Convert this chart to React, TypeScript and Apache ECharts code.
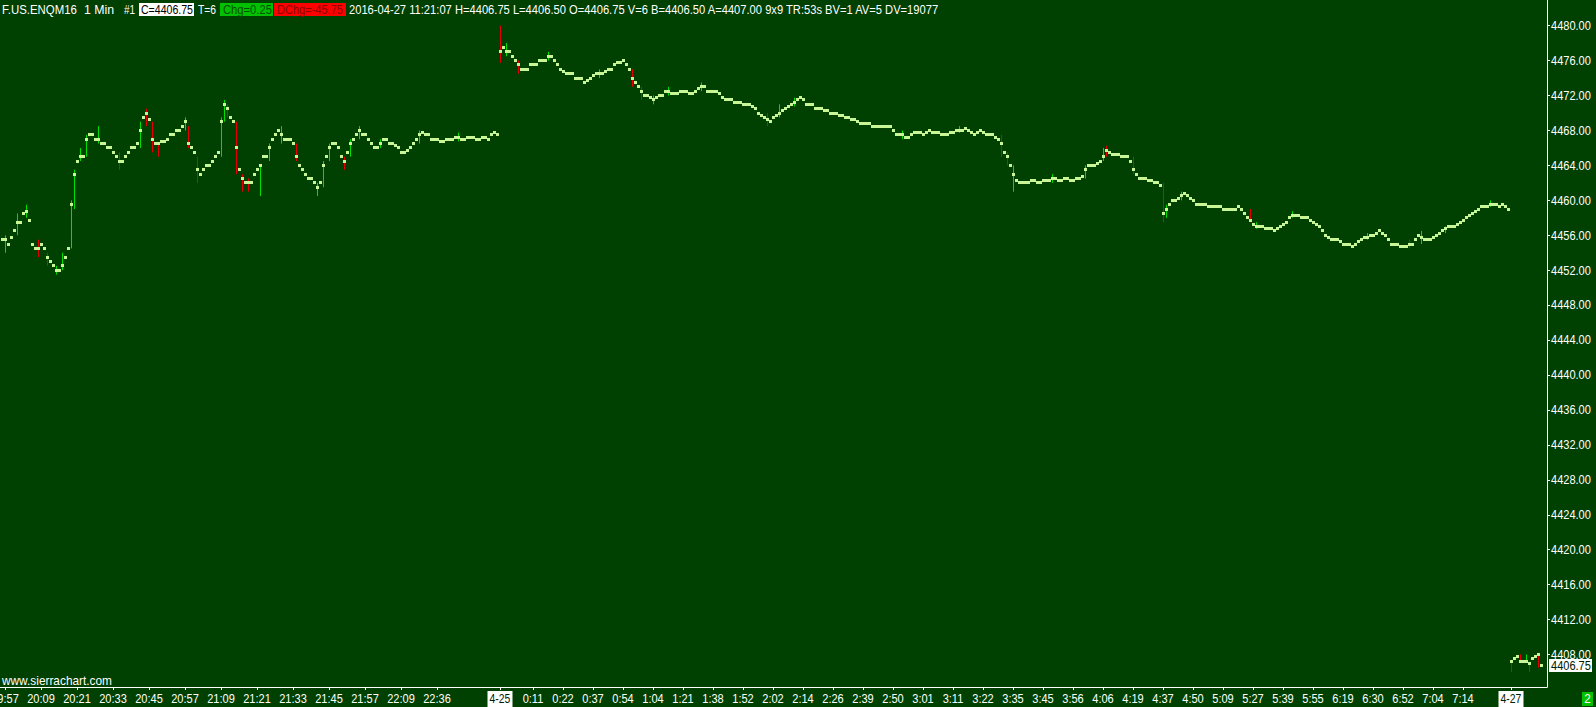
import React, { useEffect, useRef } from "react";
import * as echarts from "echarts";

// ---- data ----
// 1-minute closes, session of 4-24 evening
const session1Close = [
  4455.5, 4455.5, 4455, 4455.75,
  4456.5, 4457.5, 4457.5, 4458.5, 4458.75, 4457.75,
  4455, 4454.5, 4454.5, 4455, 4454.5,
  4453.5, 4453, 4452.5, 4452, 4452, 4452.5,
  4453.5, 4454.5,
  4459.5, 4463,
  4464.5, 4465, 4465,
  4467, 4467.5, 4467.5, 4467, 4467, 4466.5,
  4466.5, 4466, 4466, 4465.5, 4465,
  4464.5, 4464.5,
  4465, 4465.5, 4466, 4466, 4466.5, 4468,
  4469.5, 4470, 4469.25,
  4467, 4466.5, 4466.5, 4466.75, 4466.75, 4467,
  4467.5, 4467.5, 4468, 4468, 4468.5, 4469,
  4466.5, 4466, 4465.5, 4463.5,
  4463, 4463.5, 4464, 4464, 4464.5, 4465, 4465.5,
  4469, 4471, 4470.5, 4469.5, 4469,
  4466, 4463.5, 4462.5, 4462, 4462, 4462,
  4463, 4463.5, 4464, 4465, 4465,
  4466, 4467, 4467.5, 4468,
  4467.5, 4467, 4467, 4467, 4466.5,
  4465, 4464, 4463.5, 4463,
  4462.5, 4462.5, 4462, 4461.5, 4462,
  4464, 4465, 4466, 4466.5, 4466.5,
  4466, 4465, 4464.5, 4465.5, 4466.5,
  4467, 4467.5, 4468, 4467.5, 4467.5,
  4467, 4466.5, 4466, 4466, 4466.5, 4467, 4467,
  4466.5, 4466.5, 4466.25, 4466, 4465.5, 4465.5, 4465.75,
  4466, 4466.5, 4467, 4467.5, 4467.75, 4467.5, 4467.5,
  4467, 4467, 4467, 4466.75, 4466.75, 4467, 4467, 4467, 4467.25, 4467.25, 4467, 4467,
  4467.25, 4467.25, 4467.25, 4467, 4467, 4467.25, 4467.25, 4467, 4467.5, 4467.75, 4467.5,
];

// 4-25 00:00 .. 07:29
const session2Close = [
  4477, 4477.5, 4477, 4477, 4476.5, 4476, 4475.5, 4475, 4475, 4475, 4475.5,
  4475.5, 4475.5, 4476, 4476, 4476, 4476.5, 4476.5, 4476, 4475.5, 4475,
  4474.75, 4474.5, 4474.5, 4474.5, 4474, 4474, 4474, 4473.5, 4473.75, 4474,
  4474.25, 4474.5, 4474.5, 4474.5, 4474.75, 4475, 4475, 4475.5, 4475.75, 4475.75,
  4476, 4475.5, 4475, 4474, 4473.5, 4473, 4472.5, 4472, 4472, 4471.75,
  4471.5, 4471.75, 4472, 4472, 4472.5, 4472.5, 4472.25, 4472.25, 4472.25, 4472.5,
  4472.5, 4472.5, 4472.25, 4472.25, 4472.5, 4472.75, 4473, 4473, 4472.5, 4472.5,
  4472.5, 4472.5, 4472.25, 4471.75, 4471.5, 4471.5, 4471.5, 4471.25, 4471.25, 4471.25,
  4471, 4471, 4471, 4470.75, 4470.5, 4470, 4469.75, 4469.5, 4469.25, 4469,
  4469.5, 4469.75, 4470, 4470.25, 4470.5, 4470.75, 4471, 4471.25, 4471.5, 4471.75,
  4471.5, 4471, 4471, 4471, 4470.5, 4470.5, 4470.5, 4470.25, 4470.25, 4470,
  4470, 4470, 4469.75, 4469.75, 4469.5, 4469.5, 4469.25, 4469.25, 4469, 4468.75,
  4468.75, 4468.75, 4468.75, 4468.5, 4468.5, 4468.5, 4468.5, 4468.5, 4468.5, 4468.5,
  4468, 4467.5, 4467.5, 4467.5, 4467.25, 4467.25, 4467.5, 4467.75, 4467.75, 4467.75,
  4467.5, 4467.75, 4468, 4467.75, 4467.75, 4467.75, 4467.5, 4467.5, 4467.5, 4467.75,
  4467.75, 4468, 4468, 4468, 4468.25, 4468, 4467.75, 4467.5, 4467.75, 4468,
  4467.75, 4467.5, 4467.5, 4467.5, 4467.25, 4467, 4466.5, 4465.5, 4465, 4464,
  4463, 4462.25, 4462, 4462, 4462, 4462, 4462.25, 4462.25, 4462, 4462,
  4462.25, 4462.25, 4462.25, 4462.5, 4462.5, 4462.25, 4462.25, 4462.5, 4462.5, 4462.25,
  4462.25, 4462.5, 4462.5, 4462.75, 4463.5, 4464, 4464, 4464, 4464.25, 4464.5,
  4465, 4465.75, 4465.5, 4465.25, 4465.25, 4465.25, 4465, 4465, 4465, 4464.5,
  4463.5, 4463, 4462.5, 4462.5, 4462.5, 4462.25, 4462.25, 4462, 4462, 4461.75,
  4458.5, 4459, 4459.5, 4460, 4460, 4460.25, 4460.5, 4460.75, 4460.5, 4460.25,
  4460, 4459.5, 4459.5, 4459.5, 4459.5, 4459.25, 4459.25, 4459.25, 4459.25, 4459.25,
  4459, 4459, 4459, 4459, 4459, 4459.25, 4459, 4458.5, 4458, 4457.75,
  4457.25, 4457, 4457, 4457, 4456.75, 4456.75, 4456.75, 4456.5, 4456.75, 4457,
  4457.25, 4457.5, 4458, 4458.25, 4458.25, 4458.25, 4458, 4458, 4458, 4457.75,
  4457.5, 4457.25, 4457, 4456.5, 4456, 4455.75, 4455.5, 4455.5, 4455.5, 4455.25,
  4455, 4455, 4455, 4454.75, 4455, 4455.25, 4455.5, 4455.75, 4455.75, 4456,
  4456, 4456.25, 4456.5, 4456.25, 4456, 4455.5, 4455, 4455, 4455, 4454.75,
  4454.75, 4454.75, 4455, 4455, 4455.5, 4456, 4455.75, 4455.5, 4455.5, 4455.5,
  4455.75, 4456, 4456.25, 4456.5, 4456.75, 4457, 4457, 4457, 4457.25, 4457.5,
  4457.75, 4458, 4458.25, 4458.5, 4458.75, 4459, 4459.25, 4459.25, 4459.25, 4459.5,
  4459.5, 4459.5, 4459.25, 4459.5, 4459.25, 4459,
];

// 4-27
const session3Close = [
  4407.25, 4407.5, 4407.75, 4407.25, 4407.25, 4407.25, 4407, 4407.5, 4407.75, 4408, 4406.75,
];

// wicks that reach beyond the close box: [bar index, low, high, up(1)/down(0)]
const wicks: [number, number, number, number][] = [
  [1, 4454, 4456, 1], [5, 4456, 4458.5, 1], [8, 4458, 4459.5, 1], [12, 4453.5, 4455.5, 0],
  [15, 4452.5, 4454, 0], [18, 4451.5, 4452.5, 1], [20, 4452, 4454, 1], [23, 4454.5, 4460, 1],
  [24, 4459, 4463.5, 1], [26, 4464.5, 4466, 1], [28, 4465, 4467.5, 1], [32, 4466.5, 4468.5, 1],
  [39, 4463.5, 4465.5, 0], [46, 4466, 4469, 1], [48, 4468.5, 4470.5, 0], [50, 4465.5, 4469, 0],
  [52, 4465, 4466.5, 0], [61, 4468, 4469.5, 1], [62, 4466, 4468.5, 0], [65, 4462, 4465, 0],
  [73, 4465, 4469.5, 1], [74, 4469, 4471.5, 1], [75, 4469.5, 4471, 0], [78, 4463, 4469, 0],
  [80, 4461, 4463, 0], [82, 4461, 4462.5, 0], [86, 4460.5, 4464, 1], [89, 4464.5, 4466.5, 1],
  [93, 4466.5, 4468.5, 1], [98, 4464.5, 4466.5, 0], [105, 4460.5, 4462, 1], [107, 4461.5, 4464.5, 1],
  [109, 4464.5, 4466.5, 1], [114, 4463.5, 4465, 0], [116, 4465, 4467, 1], [119, 4467, 4468.5, 1],
  [126, 4466, 4467, 1], [139, 4466.5, 4468, 1], [152, 4466.75, 4467.75, 1],
  [166, 4475.75, 4480, 0], [168, 4476.5, 4478, 1], [172, 4474.5, 4476, 0], [182, 4476, 4477, 1],
  [199, 4474, 4475, 1], [210, 4473, 4475, 0], [213, 4471.5, 4473, 0], [217, 4471, 4472, 1],
  [222, 4472, 4473, 1], [233, 4472.5, 4473.5, 1], [255, 4468.5, 4470, 0], [259, 4469.5, 4471, 1],
  [264, 4470.75, 4471.75, 1], [300, 4467, 4468, 1], [319, 4467.75, 4468.5, 1],
  [333, 4465, 4467.5, 0], [335, 4464, 4465.5, 0], [337, 4461, 4464, 1], [350, 4462, 4463, 1],
  [361, 4462.5, 4464, 1], [367, 4464.5, 4466, 1], [368, 4465, 4466.25, 0], [377, 4463, 4465, 0],
  [387, 4457.5, 4462, 0], [388, 4458, 4459.5, 1], [393, 4460, 4461, 1], [416, 4457.5, 4459, 0],
  [418, 4456.75, 4457.5, 1], [430, 4458, 4458.75, 1], [455, 4455.5, 4456.25, 1],
  [469, 4454.5, 4455.5, 0], [473, 4455, 4456.5, 1], [481, 4456.25, 4457, 1], [496, 4459.25, 4460, 1],
  [503, 4406, 4407.25, 0], [506, 4407.25, 4408, 0], [508, 4407.25, 4408, 1], [509, 4406, 4407, 0],
  [512, 4406.5, 4408, 0],
];

const timeTickIndex = [
  1, 13, 25, 37, 49, 61, 73, 85, 97, 109, 121, 133, 145, 166, 177, 187, 197, 207, 217, 227,
  237, 247, 257, 267, 277, 287, 297, 307, 317, 327, 337, 347, 357, 367, 377, 387, 397, 407,
  417, 427, 437, 447, 457, 467, 477, 487, 503,
];
const timeTickLabel = [
  "19:57", "20:09", "20:21", "20:33", "20:45", "20:57", "21:09", "21:21", "21:33", "21:45",
  "21:57", "22:09", "22:36", "4-25", "0:11", "0:22", "0:37", "0:54", "1:04", "1:21", "1:38",
  "1:52", "2:02", "2:14", "2:26", "2:39", "2:50", "3:01", "3:11", "3:22", "3:35", "3:45",
  "3:56", "4:06", "4:19", "4:37", "4:50", "5:09", "5:27", "5:39", "5:55", "6:19", "6:30",
  "6:52", "7:04", "7:14", "4-27",
];
const priceTicks = [
  4408, 4412, 4416, 4420, 4424, 4428, 4432, 4436, 4440, 4444, 4448, 4452, 4456, 4460, 4464,
  4468, 4472, 4476, 4480,
];
const lastPrice = 4406.75;
const pageCount = "2";

const headerTexts = [
  "F.US.ENQM16", "1 Min", "#1", "C=4406.75", "T=6", "Chg=0.25", "DChg=-45.75",
  "2016-04-27 11:21:07 H=4406.75 L=4406.50 O=4406.75 V=6 B=4406.50 A=4407.00 9x9 TR:53s BV=1 AV=5 DV=19077",
];
const siteText = "www.sierrachart.com";

// ---- layout / style ----
const headerSpan: [number, number][] = [
  [2, 77], [84, 115], [124, 135], [141, 193], [198, 216], [223, 272], [277, 343], [349, 940],
];
const headerBox: Record<number, { x: number; w: number; fill: string; color: string }> = {
  3: { x: 139, w: 55, fill: "#ffffff", color: "#000000" },
  5: { x: 220, w: 53, fill: "#00c000", color: "#005000" },
  6: { x: 274, w: 72, fill: "#ff0000", color: "#900000" },
};
const FAMILY = '"Liberation Sans", Arial, sans-serif';
const FONT13 = `13px ${FAMILY}`;
const NARROW = 0.85;
const BG = "#004000";
const BODY = "#c8f596";
const UP = "#00e000";
const DOWN = "#e80000";

export default function App() {
  const ref = useRef<HTMLDivElement>(null);

  useEffect(() => {
    document.body.style.margin = "0";
    const chart = echarts.init(ref.current as HTMLDivElement, null, { renderer: "svg" });

    const closes = [...session1Close, ...session2Close, ...session3Close];
    const wickMap = new Map<number, [number, number, number]>();
    wicks.forEach(([i, l, h, d]) => wickMap.set(i, [l, h, d]));
    const bars = closes.map((c, i) => {
      const w = wickMap.get(i);
      return w ? [i, c, w[0], w[1], w[2]] : [i, c, c, c, -1];
    });

    chart.setOption({
      animation: false,
      backgroundColor: BG,
      grid: { left: 0, right: 49, top: 0, bottom: 20 },
      xAxis: {
        type: "value",
        min: -2 / 3,
        max: 515,
        splitLine: { show: false },
        axisLine: { show: true, onZero: false, lineStyle: { color: "#ffffff", width: 1 } },
        axisTick: { show: true, customValues: timeTickIndex, length: 3, lineStyle: { color: "#ffffff" } },
        axisLabel: { show: false },
      },
      yAxis: {
        type: "value",
        position: "right",
        min: 4404.28,
        max: 4482.94,
        splitLine: { show: false },
        axisLine: { show: true, onZero: false, lineStyle: { color: "#ffffff", width: 1 } },
        axisTick: { show: true, customValues: priceTicks, length: 3, lineStyle: { color: "#ffffff" } },
        axisLabel: { show: false },
      },
      series: [
        {
          type: "custom",
          clip: true,
          data: bars,
          encode: { x: 0, y: [1, 2, 3] },
          renderItem: (params: any, api: any) => {
            const i = api.value(0);
            const c = api.value(1);
            const l = api.value(2);
            const h = api.value(3);
            const d = api.value(4);
            const pc = api.coord([i, c]);
            const x = Math.round(pc[0]);
            const children: any[] = [];
            if (d >= 0) {
              const pl = api.coord([i, l]);
              const ph = api.coord([i, h]);
              children.push({
                type: "line",
                shape: { x1: x + 0.5, y1: ph[1], x2: x + 0.5, y2: pl[1] },
                style: { stroke: d === 1 ? UP : DOWN, lineWidth: 1 },
              });
            }
            children.push({
              type: "rect",
              shape: { x: x - 1, y: Math.round(pc[1] - 1.5), width: 3, height: 3 },
              style: { fill: BODY },
            });
            return { type: "group", children };
          },
        },
      ],
    });

    // texts, drawn narrow like the original's condensed UI font
    const ctx = document.createElement("canvas").getContext("2d") as CanvasRenderingContext2D;
    ctx.font = FONT13;
    const graphics: any[] = [];
    const narrowText = (text: string, x: number, y: number, fill: string, align = "left", sx = NARROW) => ({
      type: "text",
      x,
      y,
      scaleX: sx,
      style: { text, fill, font: FONT13, align, verticalAlign: "middle" },
    });
    const fit = (t: string, w: number) => Math.min(0.95, w / ctx.measureText(t).width);

    headerTexts.forEach((t, k) => {
      const b = headerBox[k];
      if (b) {
        graphics.push({ type: "rect", shape: { x: b.x, y: 3, width: b.w, height: 13 }, style: { fill: b.fill } });
      }
      const [x0, x1] = headerSpan[k];
      graphics.push(narrowText(t, x0, 9.5, b ? b.color : "#ffffff", "left", fit(t, x1 - x0)));
    });
    graphics.push(narrowText(siteText, 2, 681, "#ffffff", "left", fit(siteText, 110)));

    // time labels at the axis ticks (positions from the x axis scale)
    timeTickIndex.forEach((idx, k) => {
      const px = chart.convertToPixel({ xAxisIndex: 0 }, idx) as number;
      const t = timeTickLabel[k];
      const isDate = t.indexOf("-") >= 0;
      if (isDate) {
        graphics.push({ type: "rect", shape: { x: Math.round(px) - 12.5, y: 691, width: 25, height: 16 }, style: { fill: "#ffffff" } });
      }
      graphics.push(narrowText(t, px, 698.5, isDate ? "#002000" : "#ffffff", "center", isDate ? 0.8 : NARROW));
    });

    // price labels (positions from the y axis scale)
    priceTicks.forEach((p) => {
      const py = chart.convertToPixel({ yAxisIndex: 0 }, p) as number;
      graphics.push(narrowText(p.toFixed(2), 1551, py, "#ffffff"));
    });
    const lastY = chart.convertToPixel({ yAxisIndex: 0 }, lastPrice) as number;
    graphics.push({ type: "rect", shape: { x: 1549, y: Math.round(lastY) - 6, width: 43, height: 13 }, style: { fill: "#ffffff" } });
    graphics.push(narrowText(lastPrice.toFixed(2), 1551, Math.round(lastY) + 0.5, "#002000"));

    graphics.push({ type: "rect", shape: { x: 1582, y: 692, width: 11, height: 14 }, style: { fill: "#00c000" } });
    graphics.push(narrowText(pageCount, 1587.5, 699, "#ffffff", "center", 0.9));

    chart.setOption({ graphic: graphics });

    return () => chart.dispose();
  }, []);

  return <div ref={ref} style={{ width: 1596, height: 707 }} />;
}
